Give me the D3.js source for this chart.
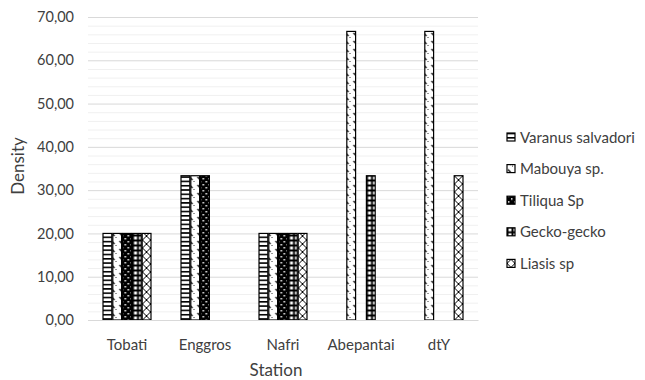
<!DOCTYPE html>
<html>
<head>
<meta charset="utf-8">
<script src="https://cdn.jsdelivr.net/npm/d3@7"></script>
<style>
body{margin:0;background:#fff;}
text{font-family:Lato,"Open Sans",sans-serif;fill:#404040;}
</style>
</head>
<body>
<svg id="chart" width="645" height="380"></svg>
<script>
const categories = ["Tobati","Enggros","Nafri","Abepantai","dtY"];
const seriesNames = ["Varanus salvadori","Mabouya sp.","Tiliqua Sp","Gecko-gecko","Liasis sp"];
const varanus = [20, 33.33, 20, 0, 0];
const mabouya = [20, 33.33, 20, 66.67, 66.67];
const tiliqua = [20, 33.33, 20, 0, 0];
const gecko = [20, 0, 20, 33.33, 0];
const liasis = [20, 0, 20, 0, 33.33];
const yTicks = [0,10,20,30,40,50,60,70];
const seriesValues = [varanus, mabouya, tiliqua, gecko, liasis];

const svg = d3.select("#chart");
const defs = svg.append("defs");

const pids = ["pVar","pMab","pTil","pGec","pLia"];
let p = defs.append("pattern").attr("id","pVar").attr("patternUnits","userSpaceOnUse").attr("width",4).attr("height",4.3);
p.append("rect").attr("width",4).attr("height",4.3).attr("fill","#fff");
p.append("rect").attr("y",0).attr("width",4).attr("height",1.6).attr("fill","#000");
p = defs.append("pattern").attr("id","pMab").attr("patternUnits","userSpaceOnUse").attr("width",8).attr("height",8);
p.append("rect").attr("width",8).attr("height",8).attr("fill","#fff");
p.append("line").attr("x1",1).attr("y1",1).attr("x2",4).attr("y2",4).attr("stroke","#000").attr("stroke-width",1.2);
p.append("line").attr("x1",5).attr("y1",5).attr("x2",6).attr("y2",6).attr("stroke","#000").attr("stroke-width",0.8);
p = defs.append("pattern").attr("id","pTil").attr("patternUnits","userSpaceOnUse").attr("width",6).attr("height",6);
p.append("rect").attr("width",6).attr("height",6).attr("fill","#000");
p.append("rect").attr("x",1).attr("y",1).attr("width",1.5).attr("height",1.5).attr("fill","#fff");
p.append("rect").attr("x",4).attr("y",4).attr("width",1.5).attr("height",1.5).attr("fill","#fff");
p = defs.append("pattern").attr("id","pGec").attr("patternUnits","userSpaceOnUse").attr("width",5).attr("height",5);
p.append("rect").attr("width",5).attr("height",5).attr("fill","#000");
p.append("rect").attr("x",1.5).attr("y",1.5).attr("width",3).attr("height",3).attr("fill","#fff");
p = defs.append("pattern").attr("id","pLia").attr("patternUnits","userSpaceOnUse").attr("width",8).attr("height",8);
p.append("rect").attr("width",8).attr("height",8).attr("fill","#fff");
p.append("path").attr("d","M0,0L8,8M8,0L0,8").attr("stroke","#000").attr("stroke-width",1);

const x0 = d3.scaleBand().domain(categories).range([88,478]).paddingInner(0.372).paddingOuter(0.186);
const x1 = d3.scaleBand().domain(seriesNames).range([0,x0.bandwidth()]).padding(0);
const y = d3.scaleLinear().domain([0,70]).range([320,17]);

const minor = d3.range(0,71,2).filter(v=>v%10!==0);
svg.append("g").selectAll("line").data(minor).join("line")
  .attr("x1",88).attr("x2",478).attr("y1",d=>y(d)+0.5).attr("y2",d=>y(d)+0.5)
  .attr("stroke","#f0f0f0").attr("stroke-width",1);

const yAxis = d3.axisLeft(y).tickValues(yTicks).tickSize(-(478-88)).tickPadding(14)
  .tickFormat(d=>d3.format(".2f")(d).replace(".",","));
const gy = svg.append("g").attr("transform","translate(88,0)").call(yAxis);
gy.select(".domain").remove();
gy.selectAll(".tick line").attr("stroke","#d9d9d9");
gy.selectAll(".tick text").style("font-size","14.5px").style("font-family","Lato").attr("fill","#404040");

const groups = svg.append("g").selectAll("g").data(categories).join("g")
  .attr("transform",d=>`translate(${x0(d)},0)`);
groups.selectAll("rect").data((c,ci)=>seriesNames.map((s,si)=>({s,si,v:seriesValues[si][ci]})).filter(d=>d.v>0))
  .join("rect")
  .attr("x",d=>x1(d.s)+0.5).attr("width",x1.bandwidth()-1)
  .attr("y",d=>y(d.v)).attr("height",d=>y(0)-y(d.v))
  .attr("fill",d=>`url(#${pids[d.si]})`).attr("stroke","#000").attr("stroke-width",1.2);

const xAxis = d3.axisBottom(x0).tickSize(0).tickPadding(19);
const gx = svg.append("g").attr("transform","translate(0,320)").call(xAxis);
gx.select(".domain").attr("stroke","#d9d9d9");
gx.selectAll(".tick text").style("font-size","15px").style("font-family","Lato").attr("fill","#404040");

svg.append("text").attr("x",276).attr("y",376).attr("text-anchor","middle").style("font-size","17px").text("Station");
svg.append("text").attr("transform","translate(24,166) rotate(-90)").attr("text-anchor","middle").style("font-size","17px").text("Density");

const lg = svg.append("g").selectAll("g").data(seriesNames).join("g")
  .attr("transform",(d,i)=>`translate(507,${137+i*31.6})`);
lg.append("rect").attr("x",0).attr("y",-4).attr("width",8).attr("height",8)
  .attr("fill",(d,i)=>`url(#${pids[i]})`).attr("stroke","#000").attr("stroke-width",1.2);
lg.append("text").attr("x",13).attr("y",5.5).style("font-size","15px").text(d=>d);
</script>
</body>
</html>
